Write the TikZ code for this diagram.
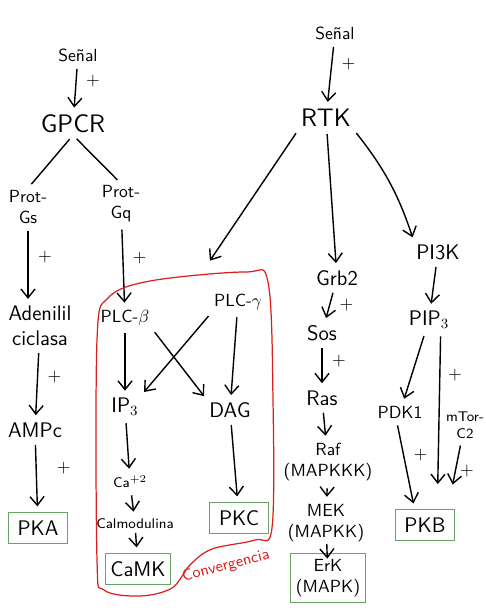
\documentclass[tikz,border=0pt]{standalone}
\usepackage{tikz}
\usetikzlibrary{positioning,arrows.meta}
\definecolor{boxgreen}{rgb}{0.42, 0.64, 0.40}
\definecolor{convred}{rgb}{0.86, 0.12, 0.12}
\tikzset{
  lbl/.style={font=\sffamily, align=center, inner sep=1pt},
  mid/.style={lbl, font=\sffamily\large},
  big/.style={lbl, font=\sffamily\Large},
  sml/.style={lbl, font=\sffamily\footnotesize},
  box/.style={lbl, font=\sffamily\large, draw=boxgreen, line width=0.6pt, minimum width=34pt, minimum height=18pt, inner sep=3pt},
  arr/.style={->, line width=0.8pt, shorten >=3pt, shorten <=3pt},
  link/.style={line width=0.8pt, shorten >=3pt, shorten <=3pt},
  plus/.style={midway, right, font=\sffamily, xshift=2pt},
}

\begin{document}
\begin{tikzpicture}[x=0.02cm, y=-0.02cm, >={Straight Barb[length=5pt,width=8pt]}]
\useasboundingbox (0,0) rectangle (486,613);

% GPCR side
\node[lbl] (senal1) at (78,55) {Señal};
\node[big] (gpcr) at (73,124) {GPCR};
\node[lbl] (gs) at (28,207) {Prot-\\Gs};
\node[lbl] (gq) at (121,204) {Prot-\\Gq};
\node[mid] (aden) at (40,326) {Adenilil\\ciclasa};
\node[mid] (ampc) at (35,430) {AMPc};
\node[box] (pka) at (38,528) {PKA};

\draw[arr] (senal1) -- node[plus, pos=0.35] {+} (gpcr);
\draw[link] (gpcr.south) -- (gs.north);
\draw[link] (gpcr.south) -- (gq.north);
\draw[arr] (gs.south) -- node[plus, pos=0.4] {+} (gs.south |- aden.north);
\draw[arr] (aden) -- node[plus, pos=0.4] {+} (ampc);
\draw[arr] (ampc) -- node[plus, pos=0.4, xshift=6pt] {+} (pka);

% convergence region
\node[lbl] (plcb) at (125,318) {PLC-$\beta$};
\node[lbl] (plcg) at (238,302) {PLC-$\gamma$};
\node[mid] (ip3) at (125,407) {IP$_3$};
\node[mid] (dag) at (230,410) {DAG};
\node[sml] (ca) at (130,482) {Ca$^{+2}$};
\node[sml] (calm) at (135,524) {Calmodulina};
\node[box] (camk) at (138,569) {CaMK};
\node[box] (pkc) at (239,518) {PKC};
\coordinate (conv) at (207,265);

\draw[arr] (gq) -- node[plus, pos=0.4] {+} (plcb);
\draw[arr] (plcb) -- (ip3);
\draw[arr] (plcb.south east) -- (dag.north west);
\draw[arr] (plcg.south west) -- (ip3.north east);
\draw[arr] (plcg) -- (dag);
\draw[arr] (ip3) -- (ca);
\draw[arr] (ca) -- (calm);
\draw[arr, shorten <=1pt] (calm) -- (camk);
\draw[arr] (dag) -- (pkc);

\draw[convred, line width=0.7pt] plot[smooth cycle, tension=0.55] coordinates {(97,560) (97,340) (108,298) (150,281) (245,272) (268,282) (273,400) (272,528) (255,540) (212,549) (190,565) (172,588) (140,596) (104,590)};
\node[sml, font=\sffamily\small, text=convred, rotate=15] (convtxt) at (226,566) {Convergencia};

% RTK side
\node[lbl] (senal2) at (335,33) {Señal};
\node[big] (rtk) at (326,118) {RTK};
\node[mid] (grb2) at (337,278) {Grb2};
\node[mid] (sos) at (322,333) {Sos};
\node[mid] (ras) at (322,398) {Ras};
\node[lbl] (raf) at (328,462) {Raf\\(MAPKKK)};
\node[lbl] (mek) at (326,523) {MEK\\(MAPKK)};
\node[box, font=\sffamily, minimum width=42pt, minimum height=26pt] (erk) at (328,578) {ErK\\(MAPK)};
\node[mid] (pi3k) at (438,252) {PI3K};
\node[mid] (pip3) at (429,320) {PIP$_3$};
\node[lbl] (pdk1) at (400,412) {PDK1};
\node[sml] (mtor) at (465,425) {mTor-\\C2};
\node[box] (pkb) at (425,525) {PKB};

\draw[arr] (senal2) -- node[plus, pos=0.35] {+} (rtk);
\draw[arr] (rtk.south west) -- (conv);
\draw[arr] (rtk) -- (grb2);
\draw[arr] (rtk.south east) to[bend left=10] (pi3k.north west);
\draw[arr] (grb2) -- node[plus] {+} (sos);
\draw[arr] (sos) -- node[plus, pos=0.4] {+} (ras);
\draw[arr] (ras) -- (raf);
\draw[arr] (raf) -- (mek);
\draw[arr, shorten >=-3pt, shorten <=0pt] (mek) -- (erk);
\draw[arr] (pi3k) -- (pip3);
\draw[arr] (pip3) -- (pdk1);
\draw[arr, shorten >=14pt] ([xshift=-6pt]pip3.south east) -- node[plus, pos=0.25, xshift=-1pt] {+} ([xshift=7pt]pkb.north);
\draw[arr] ([xshift=-2pt]pdk1.south) -- node[plus, pos=0.4] {+} ([xshift=-6pt]pkb.north);
\draw[arr, shorten >=14pt] ([xshift=-2pt]mtor.south) -- node[plus, pos=0.45, xshift=-3pt] {+} ([xshift=13pt]pkb.north);

\end{tikzpicture}
\end{document}
